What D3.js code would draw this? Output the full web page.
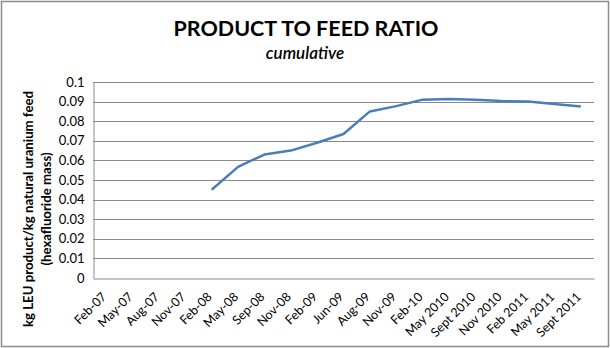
<!DOCTYPE html>
<html>
<head>
<meta charset="utf-8">
<script src="https://cdn.jsdelivr.net/npm/d3@7"></script>
<style>
  html, body { margin: 0; padding: 0; background: #fff; }
  svg { display: block; }
  text { font-family: Lato, "Open Sans", sans-serif; fill: #000; }
</style>
</head>
<body>
<svg id="chart" width="610" height="348"></svg>
<script>
const categories = ["Feb-07","May-07","Aug-07","Nov-07","Feb-08","May-08","Sep-08","Nov-08","Feb-09","Jun-09","Aug-09","Nov-09","Feb-10","May 2010","Sept 2010","Nov 2010","Feb 2011","May 2011","Sept 2011"];
const values = [null,null,null,null,0.045,0.0567,0.063,0.065,0.069,0.0735,0.085,0.0877,0.091,0.0913,0.091,0.0903,0.09,0.0888,0.0875];
const yTicks = [0,0.01,0.02,0.03,0.04,0.05,0.06,0.07,0.08,0.09,0.1];
const tickLabels = ["0","0.01","0.02","0.03","0.04","0.05","0.06","0.07","0.08","0.09","0.1"];

const svg = d3.select("#chart");
const W = 610, H = 348;
const m = {left: 93, right: 16, top: 82, bottom: 70};

svg.append("rect").attr("x",1.5).attr("y",1.5).attr("width",W-3).attr("height",H-3)
  .attr("fill","#fff").attr("stroke","#8c8c8c").attr("stroke-width",1.5);

const x = d3.scaleBand().domain(categories).range([m.left, W - m.right]);
const y = d3.scaleLinear().domain([0, 0.1]).range([H - m.bottom, m.top]);

// gridlines
svg.append("g").selectAll("line").data(yTicks.slice(1)).join("line")
  .attr("x1", m.left).attr("x2", W - m.right)
  .attr("y1", d => Math.round(y(d)) + 0.5).attr("y2", d => Math.round(y(d)) + 0.5)
  .attr("stroke", "#8a8a8a").attr("stroke-width", 1);

// y axis
const yAxis = d3.axisLeft(y).tickValues(yTicks).tickFormat((d,i) => tickLabels[i]).tickSize(0).tickPadding(9);
const gy = svg.append("g").attr("transform", `translate(${m.left + 0.5},0)`).call(yAxis);
gy.select(".domain").attr("stroke", "#8a8a8a");
gy.selectAll("text").attr("font-size", 13).attr("fill","#000").style("font-family","Lato, 'Open Sans', sans-serif");

// x axis
const xAxis = d3.axisBottom(x).tickSize(0).tickPadding(0);
const gx = svg.append("g").attr("transform", `translate(0,${Math.round(H - m.bottom) + 0.5})`).call(xAxis);
gx.select(".domain").attr("stroke", "#8a8a8a");
gx.selectAll("text")
  .attr("font-size", 12.5).attr("fill","#000").style("font-family","Lato, 'Open Sans', sans-serif")
  .attr("text-anchor", "end")
  .attr("x", 0).attr("y", 0).attr("dy", 0)
  .attr("transform", "translate(1,19) rotate(-45)");

// line
const line = d3.line()
  .defined(d => d.v !== null)
  .x(d => x(d.c) + x.bandwidth() / 2)
  .y(d => y(d.v));
svg.append("path")
  .datum(categories.map((c, i) => ({c, v: values[i]})))
  .attr("d", line)
  .attr("fill", "none").attr("stroke", "#4a7ebb").attr("stroke-width", 2.5)
  .attr("stroke-linejoin", "round");

// titles
svg.append("text").attr("x", 306).attr("y", 36).attr("text-anchor", "middle")
  .attr("font-size", 21.5).attr("font-weight", "bold").text("PRODUCT TO FEED RATIO");
svg.append("text").attr("x", 305).attr("y", 59).attr("text-anchor", "middle")
  .attr("font-size", 17).attr("font-style", "italic").attr("font-weight", 600).text("cumulative");

const yt = svg.append("text").attr("transform", "translate(33,209) rotate(-90)")
  .attr("text-anchor", "middle").attr("font-size", 13.2).attr("font-weight", "bold");
yt.append("tspan").attr("x", 0).attr("dy", 0).text("kg LEU product/kg natural uranium feed");
yt.append("tspan").attr("x", 0).attr("dy", 17.5).text("(hexafluoride mass)");
</script>
</body>
</html>
